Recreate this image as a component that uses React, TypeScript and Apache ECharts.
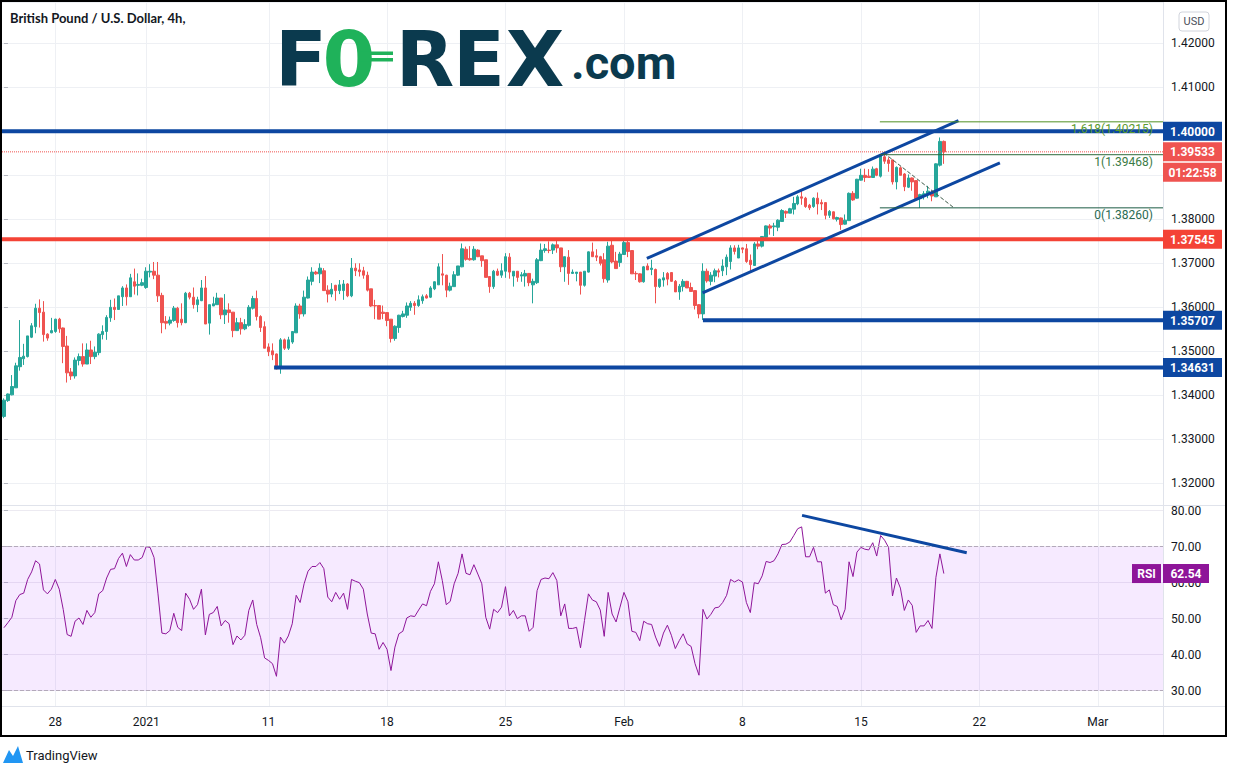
import React, { useEffect, useRef } from "react";
import * as echarts from "echarts";

// ---------- data ----------
const SLOTS = 294; // 4h bar slots shown on the time axis (bars + empty future space)
const categories = Array.from({ length: SLOTS }, (_, i) => String(i));
const xTickIndex = [13, 36, 67, 97, 127, 157, 187, 217, 247, 277];
const xTickLabels = ["28", "2021", "11", "18", "25", "Feb", "8", "15", "22", "Mar"];
// price-axis labels covered by tags in the original
const hiddenPriceLabels = [1.39];

// [open, close, low, high]
const candles: number[][] = [
  [1.3352, 1.3389, 1.3348, 1.3393], [1.3388, 1.3403, 1.3385, 1.3404], [1.3401, 1.342, 1.34, 1.3446], [1.3417, 1.3467, 1.3417, 1.3474],
  [1.3465, 1.3486, 1.3456, 1.3571], [1.3483, 1.3489, 1.3469, 1.3517], [1.3488, 1.3535, 1.3486, 1.3535], [1.3532, 1.3558, 1.353, 1.3564],
  [1.3556, 1.3598, 1.3541, 1.3608], [1.3598, 1.3588, 1.3554, 1.3618], [1.3589, 1.3538, 1.3522, 1.3614], [1.3539, 1.353, 1.3524, 1.3541],
  [1.3542, 1.3547, 1.3541, 1.3576], [1.3545, 1.3573, 1.3542, 1.3574], [1.3573, 1.3551, 1.3542, 1.3576], [1.3553, 1.3511, 1.3473, 1.3554],
  [1.3512, 1.3451, 1.3429, 1.3535], [1.3453, 1.3444, 1.3435, 1.3462], [1.3444, 1.348, 1.3438, 1.3486], [1.3479, 1.3488, 1.3468, 1.3495],
  [1.3488, 1.3471, 1.3465, 1.3518], [1.3471, 1.3503, 1.3471, 1.3518], [1.3503, 1.3488, 1.3471, 1.3524], [1.3488, 1.3498, 1.3482, 1.3511],
  [1.3497, 1.3539, 1.3491, 1.3541], [1.3538, 1.3545, 1.3527, 1.3559], [1.3545, 1.3577, 1.3526, 1.3582], [1.3576, 1.36, 1.3567, 1.3617],
  [1.36, 1.3595, 1.3571, 1.362], [1.3595, 1.3626, 1.3594, 1.3626], [1.3624, 1.3644, 1.3603, 1.3648], [1.3644, 1.3624, 1.3604, 1.3652],
  [1.3624, 1.3667, 1.3624, 1.3676], [1.3658, 1.3648, 1.3629, 1.3688], [1.365, 1.3652, 1.3627, 1.3677], [1.365, 1.3656, 1.3648, 1.3665],
  [1.3645, 1.3682, 1.3642, 1.3691], [1.368, 1.3682, 1.3668, 1.3698], [1.3682, 1.3673, 1.3664, 1.3703], [1.3673, 1.3626, 1.3612, 1.3703],
  [1.3627, 1.3565, 1.3541, 1.3633], [1.3568, 1.3564, 1.355, 1.358], [1.3564, 1.3571, 1.3559, 1.3579], [1.357, 1.3598, 1.3567, 1.3603],
  [1.3598, 1.3565, 1.3554, 1.3601], [1.3573, 1.3565, 1.3559, 1.3609], [1.3565, 1.3632, 1.3564, 1.3635], [1.3632, 1.3623, 1.3618, 1.3635],
  [1.3623, 1.3606, 1.3597, 1.3645], [1.3606, 1.3617, 1.3589, 1.3624], [1.3615, 1.3644, 1.3614, 1.3662], [1.3644, 1.3562, 1.3562, 1.3671],
  [1.3564, 1.3606, 1.3538, 1.3606], [1.3603, 1.3608, 1.3603, 1.3624], [1.3606, 1.3621, 1.3606, 1.3633], [1.3621, 1.3583, 1.3573, 1.3621],
  [1.3583, 1.3594, 1.3562, 1.363], [1.3594, 1.3588, 1.3565, 1.3609], [1.3589, 1.3547, 1.3532, 1.3589], [1.3547, 1.3565, 1.3547, 1.3576],
  [1.3565, 1.3551, 1.3538, 1.3576], [1.3551, 1.3561, 1.3548, 1.3573], [1.3559, 1.36, 1.3556, 1.3605], [1.3598, 1.362, 1.3595, 1.3626],
  [1.362, 1.3579, 1.357, 1.3638], [1.3579, 1.3554, 1.3544, 1.3582], [1.3556, 1.3507, 1.3507, 1.3568], [1.351, 1.3499, 1.3489, 1.3518],
  [1.3501, 1.3492, 1.348, 1.3518], [1.3494, 1.346, 1.3459, 1.3495], [1.3465, 1.3526, 1.3449, 1.353], [1.3526, 1.3507, 1.3503, 1.3529],
  [1.3507, 1.3526, 1.3503, 1.3533], [1.3521, 1.3545, 1.3517, 1.3546], [1.3542, 1.3603, 1.3542, 1.3609], [1.3603, 1.3585, 1.3574, 1.3608],
  [1.3585, 1.3623, 1.3579, 1.3638], [1.3621, 1.3662, 1.362, 1.367], [1.3659, 1.368, 1.365, 1.3691], [1.368, 1.3676, 1.3674, 1.3683],
  [1.3676, 1.3689, 1.3655, 1.37], [1.3683, 1.3638, 1.3637, 1.3689], [1.3639, 1.363, 1.3611, 1.365], [1.363, 1.3641, 1.3623, 1.3655],
  [1.365, 1.3638, 1.3615, 1.3651], [1.3638, 1.3651, 1.363, 1.3662], [1.3638, 1.3653, 1.3617, 1.3662], [1.3653, 1.3626, 1.3623, 1.3655],
  [1.3626, 1.3689, 1.3623, 1.3712], [1.3689, 1.3683, 1.3671, 1.37], [1.3685, 1.3681, 1.367, 1.37], [1.3683, 1.3673, 1.3665, 1.3692],
  [1.3673, 1.3639, 1.3636, 1.3681], [1.3642, 1.3603, 1.3601, 1.3642], [1.3604, 1.3603, 1.3573, 1.3617], [1.3604, 1.3573, 1.3573, 1.3604],
  [1.3589, 1.3586, 1.3573, 1.3604], [1.3588, 1.357, 1.3557, 1.3588], [1.3573, 1.3529, 1.352, 1.3573], [1.3529, 1.3557, 1.3524, 1.3559],
  [1.3554, 1.3582, 1.3542, 1.3583], [1.3579, 1.3585, 1.3577, 1.3592], [1.3582, 1.3603, 1.3576, 1.3611], [1.36, 1.3609, 1.3592, 1.3614],
  [1.3609, 1.3604, 1.3583, 1.3614], [1.3604, 1.3617, 1.3601, 1.3627], [1.3615, 1.3624, 1.3608, 1.3629], [1.3626, 1.3621, 1.362, 1.363],
  [1.3623, 1.3644, 1.3621, 1.3648], [1.3642, 1.3658, 1.3639, 1.3659], [1.3651, 1.3692, 1.3651, 1.37], [1.3676, 1.3673, 1.365, 1.3721],
  [1.3673, 1.3639, 1.3623, 1.3674], [1.3639, 1.3648, 1.3636, 1.3656], [1.3647, 1.3674, 1.3647, 1.3682], [1.3673, 1.3694, 1.3671, 1.3694],
  [1.3692, 1.3733, 1.3691, 1.3745], [1.3732, 1.3709, 1.3706, 1.3738], [1.3711, 1.3708, 1.3706, 1.3739], [1.3708, 1.3732, 1.3706, 1.3739],
  [1.373, 1.3715, 1.3714, 1.3732], [1.3717, 1.3706, 1.3692, 1.3717], [1.3708, 1.3668, 1.3668, 1.3708], [1.367, 1.3647, 1.3633, 1.367],
  [1.3647, 1.3682, 1.3642, 1.3685], [1.3682, 1.3673, 1.3671, 1.3688], [1.3673, 1.3683, 1.3667, 1.37], [1.3682, 1.3715, 1.3667, 1.3723],
  [1.3714, 1.368, 1.3665, 1.3723], [1.3671, 1.3682, 1.3647, 1.3682], [1.3682, 1.3668, 1.3658, 1.3682], [1.3671, 1.3674, 1.3658, 1.368],
  [1.3671, 1.3677, 1.3647, 1.3685], [1.3677, 1.3656, 1.3648, 1.3677], [1.3651, 1.3659, 1.3609, 1.3665], [1.3656, 1.3708, 1.3653, 1.3712],
  [1.3706, 1.373, 1.3705, 1.3745], [1.3729, 1.3733, 1.3724, 1.3744], [1.373, 1.3729, 1.3723, 1.375], [1.373, 1.3742, 1.3721, 1.3745],
  [1.3742, 1.3735, 1.3724, 1.3752], [1.3735, 1.3692, 1.368, 1.3735], [1.3692, 1.3715, 1.3658, 1.3715], [1.3714, 1.3677, 1.3651, 1.373],
  [1.3677, 1.368, 1.3676, 1.3686], [1.3677, 1.368, 1.3659, 1.368], [1.368, 1.365, 1.3629, 1.368], [1.365, 1.3682, 1.3647, 1.3682],
  [1.368, 1.3726, 1.3679, 1.3727], [1.3726, 1.3715, 1.3715, 1.3747], [1.3717, 1.3714, 1.3705, 1.3732], [1.3715, 1.37, 1.3695, 1.3717],
  [1.3708, 1.3665, 1.3656, 1.3723], [1.3662, 1.3739, 1.3656, 1.3749], [1.3741, 1.3703, 1.37, 1.3752], [1.3705, 1.3688, 1.3688, 1.3726],
  [1.3702, 1.3721, 1.3692, 1.3726], [1.372, 1.3747, 1.372, 1.3753], [1.3747, 1.3727, 1.3714, 1.3755], [1.3729, 1.3676, 1.3676, 1.373],
  [1.3677, 1.3676, 1.3662, 1.3682], [1.3676, 1.3658, 1.3656, 1.3677], [1.3658, 1.3692, 1.3656, 1.3694], [1.3694, 1.3685, 1.3685, 1.37],
  [1.3686, 1.3689, 1.3673, 1.3708], [1.3686, 1.3647, 1.3609, 1.3688], [1.3647, 1.3664, 1.3644, 1.3665], [1.3662, 1.3667, 1.3647, 1.368],
  [1.3677, 1.3664, 1.365, 1.368], [1.3679, 1.3659, 1.3658, 1.368], [1.3659, 1.3635, 1.3635, 1.3662], [1.3635, 1.3648, 1.3617, 1.3653],
  [1.3647, 1.3659, 1.3636, 1.3664], [1.3659, 1.3644, 1.3644, 1.366], [1.3645, 1.3636, 1.3636, 1.3656], [1.3638, 1.3604, 1.3595, 1.3638],
  [1.3606, 1.3585, 1.3575, 1.3607], [1.3585, 1.3682, 1.3571, 1.37], [1.3682, 1.366, 1.3656, 1.3688], [1.3659, 1.3673, 1.365, 1.368],
  [1.3671, 1.3683, 1.3657, 1.3688], [1.3683, 1.368, 1.3668, 1.3688], [1.3683, 1.3694, 1.3671, 1.3709], [1.3692, 1.3714, 1.3673, 1.372],
  [1.3704, 1.3735, 1.3686, 1.3741], [1.3735, 1.3727, 1.372, 1.3741], [1.3712, 1.3735, 1.3712, 1.3742], [1.3735, 1.3732, 1.3723, 1.3736],
  [1.3733, 1.3704, 1.3701, 1.3744], [1.3707, 1.3697, 1.3683, 1.372], [1.3695, 1.3744, 1.3694, 1.3748], [1.3744, 1.3739, 1.3732, 1.3757],
  [1.3739, 1.3761, 1.3736, 1.3762], [1.3759, 1.3785, 1.3754, 1.3786], [1.3785, 1.378, 1.3765, 1.3789], [1.3783, 1.3785, 1.3762, 1.3792],
  [1.3782, 1.3798, 1.3773, 1.38], [1.3795, 1.382, 1.3794, 1.3823], [1.3818, 1.3814, 1.3803, 1.382], [1.3814, 1.3824, 1.3814, 1.3826],
  [1.3823, 1.3836, 1.3811, 1.3851], [1.3835, 1.3851, 1.3832, 1.3855], [1.3851, 1.3848, 1.3833, 1.3868], [1.3848, 1.3829, 1.3826, 1.3851],
  [1.3832, 1.3826, 1.3821, 1.3835], [1.3829, 1.3848, 1.3826, 1.385], [1.3848, 1.3835, 1.3811, 1.3861], [1.3838, 1.3835, 1.3821, 1.3845],
  [1.3838, 1.3809, 1.38, 1.3839], [1.3809, 1.3818, 1.3803, 1.3821], [1.3817, 1.3801, 1.38, 1.3818], [1.38, 1.3804, 1.3795, 1.3806],
  [1.3803, 1.3788, 1.3776, 1.3804], [1.3789, 1.3798, 1.3788, 1.3811], [1.3797, 1.3859, 1.3797, 1.3861], [1.3859, 1.3844, 1.3842, 1.3864],
  [1.3848, 1.3891, 1.3847, 1.3892], [1.3889, 1.39, 1.3888, 1.3915], [1.39, 1.3895, 1.3885, 1.3915], [1.3898, 1.3895, 1.3894, 1.3914],
  [1.3895, 1.3914, 1.3894, 1.392], [1.3915, 1.39, 1.3898, 1.3917], [1.3898, 1.3944, 1.3895, 1.3946], [1.3942, 1.3932, 1.3926, 1.3947],
  [1.3935, 1.3927, 1.3908, 1.3941], [1.3935, 1.3885, 1.3879, 1.3936], [1.3885, 1.3918, 1.3868, 1.392], [1.3917, 1.39, 1.39, 1.392],
  [1.3903, 1.3874, 1.3864, 1.3905], [1.3873, 1.3894, 1.3871, 1.3902], [1.3894, 1.3885, 1.3865, 1.3895], [1.3888, 1.3847, 1.3845, 1.3888],
  [1.3847, 1.3856, 1.3826, 1.3858], [1.3853, 1.3858, 1.3845, 1.3864], [1.3856, 1.3864, 1.3848, 1.3876], [1.3861, 1.3853, 1.3841, 1.3865],
  [1.3851, 1.3926, 1.3851, 1.3927], [1.3923, 1.3977, 1.392, 1.3986], [1.3977, 1.39533, 1.3926, 1.3979],
];

const rsi: number[] = [
  47.5, 48.9, 50.4, 55.0, 56.7, 57.1, 60.9, 63.0, 66.1, 65.2, 58.0, 56.9, 58.2, 60.9, 58.2, 52.6, 45.6, 45.1, 49.3, 50.2,
  48.4, 52.3, 50.4, 51.7, 56.9, 57.8, 61.3, 63.7, 63.9, 66.7, 68.2, 64.5, 67.8, 66.3, 66.3, 67.0, 70.0, 69.8, 67.0, 56.9,
  46.0, 45.8, 46.7, 51.5, 47.6, 46.7, 57.1, 55.4, 52.6, 53.9, 58.2, 45.5, 51.2, 51.7, 53.4, 48.0, 49.5, 48.6, 42.8, 45.2,
  44.1, 45.4, 52.3, 55.2, 48.4, 44.7, 39.1, 38.4, 37.5, 34.0, 44.9, 43.2, 45.2, 48.6, 56.5, 54.5, 59.7, 63.2, 64.5, 64.5,
  65.6, 63.9, 56.0, 54.7, 57.3, 55.4, 57.1, 52.6, 60.9, 60.4, 60.0, 58.2, 51.3, 46.0, 45.8, 41.5, 43.4, 41.5, 35.6, 42.1,
  45.8, 46.5, 50.2, 50.8, 50.6, 52.4, 54.1, 53.6, 57.6, 59.7, 65.8, 60.6, 53.9, 54.8, 59.7, 62.6, 68.0, 62.6, 62.2, 65.0,
  62.4, 59.7, 50.4, 47.1, 52.6, 51.7, 53.2, 58.9, 50.8, 52.3, 50.0, 50.8, 50.8, 46.5, 47.6, 57.8, 60.9, 61.3, 61.1, 62.8,
  60.6, 50.8, 54.1, 47.3, 47.3, 47.6, 41.9, 49.5, 56.9, 55.2, 54.7, 52.4, 45.1, 57.3, 51.3, 49.1, 53.2, 57.3, 54.7, 46.5,
  46.2, 43.9, 49.3, 48.6, 48.4, 44.9, 42.3, 46.0, 48.2, 45.4, 41.7, 43.9, 45.8, 43.0, 42.3, 37.5, 34.3, 52.6, 49.9, 51.2,
  53.0, 53.2, 54.5, 56.5, 60.9, 60.2, 60.8, 60.2, 54.5, 51.7, 60.0, 59.7, 61.9, 65.9, 65.6, 66.1, 68.0, 70.6, 70.7, 71.3,
  73.1, 75.0, 75.5, 67.2, 67.2, 69.8, 65.8, 65.8, 57.1, 58.0, 53.9, 53.4, 49.7, 52.6, 65.8, 61.7, 68.5, 69.8, 69.3, 69.1,
  71.1, 67.4, 73.1, 71.8, 69.8, 56.3, 61.3, 58.5, 52.3, 55.2, 53.7, 46.2, 48.0, 48.0, 49.5, 47.3, 61.5, 68.0, 62.54,
];

const lastPrice = 1.39533;
const lastRsi = 62.54;
const countdown = "01:22:58";

// drawn levels: price and start bar
const levelLines = [
  { price: 1.4, from: -0.5, color: "#0d47a1" },
  { price: 1.37545, from: -0.5, color: "#f44336" },
  { price: 1.35707, from: 177, color: "#0d47a1" },
  { price: 1.34631, from: 68.4, color: "#0d47a1" },
];
const channelUpper = [[162.8, 1.3711], [241.7, 1.4024]];
const channelLower = [[176.9, 1.3633], [252.2, 1.3928]];
const fibStart = 221.8;
const fibLevels = [
  { label: "1.618", price: 1.40215, color: "#4f8f22", text: "#5a9a2e" },
  { label: "1", price: 1.39468, color: "#2d6a3a", text: "#3b7b45" },
  { label: "0", price: 1.3826, color: "#1b5a44", text: "#2a6a52" },
];
const fibDiagonal = [[222.8, 1.3951], [240.3, 1.3828]];
const rsiTrend = [[202.1, 78.7], [243.8, 68.3]];

// pane value ranges
const PMAX = 1.429386, PMIN = 1.315068;
const RMAX = 81.58, RMIN = 25.75;

const FONT = "Roboto, 'Noto Sans', sans-serif";
const BLUE = "#0d47a1";

function buildOption(): any {
  const lineSeries = (data: number[][], color: string, width: number, xi: number, yi: number, type = "solid", z = 5) => ({
    type: "line", xAxisIndex: xi, yAxisIndex: yi, data, symbol: "none", silent: true, z,
    lineStyle: { color, width, type }, animation: false,
  });
  const series: any[] = [
    {
      type: "candlestick", xAxisIndex: 0, yAxisIndex: 0, z: 3, barWidth: 3,
      data: candles.map((c) => [c[0], c[1], c[2], c[3]]),
      itemStyle: { color: "#26a69a", color0: "#ef5350", borderColor: "#26a69a", borderColor0: "#ef5350", borderColorDoji: "#26a69a", borderWidth: 1 },
    },
    lineSeries([[-0.5, lastPrice], [SLOTS - 0.5, lastPrice]], "#ef5350", 1, 2, 0, "dotted", 4),
    ...levelLines.map((l) => lineSeries([[l.from, l.price], [SLOTS - 0.5, l.price]], l.color, 4, 2, 0)),
    lineSeries(channelUpper, BLUE, 3, 2, 0),
    lineSeries(channelLower, BLUE, 3, 2, 0),
    ...fibLevels.map((f) => lineSeries([[fibStart, f.price], [SLOTS - 0.5, f.price]], f.color, 1, 2, 0)),
    lineSeries(fibDiagonal, "#3f5c4a", 1, 2, 0, "dashed"),
    {
      type: "line", xAxisIndex: 1, yAxisIndex: 1, data: rsi, symbol: "none", z: 3,
      lineStyle: { color: "#8e1599", width: 1 },
      markArea: { silent: true, itemStyle: { color: "rgba(153,21,255,0.09)" }, data: [[{ yAxis: 70 }, { yAxis: 30 }]] },
      markLine: {
        silent: true, symbol: ["none", "none"], label: { show: false },
        lineStyle: { type: "dashed", color: "#b3a9ba", width: 1 },
        data: [{ yAxis: 70 }, { yAxis: 30 }],
      },
    },
    lineSeries(rsiTrend, BLUE, 3, 3, 1),
  ];
  const tickSet = new Map<number, string>();
  xTickIndex.forEach((i, k) => tickSet.set(i, xTickLabels[k]));
  return {
    animation: false,
    backgroundColor: "#ffffff",
    grid: [
      { left: 2, top: 2, width: 1161, height: 503, outerBoundsMode: "none", containLabel: false },
      { left: 2, top: 505, width: 1161, height: 201, outerBoundsMode: "none", containLabel: false },
    ],
    xAxis: [
      { type: "category", gridIndex: 0, data: categories, boundaryGap: true, show: false },
      {
        type: "category", gridIndex: 1, data: categories, boundaryGap: true,
        axisLine: { show: false }, axisTick: { show: false }, splitLine: { show: false },
        axisLabel: {
          interval: (i: number) => tickSet.has(i),
          formatter: (_v: string, i: number) => tickSet.get(i) || "",
          margin: 10, color: "#131722", fontSize: 12, fontFamily: FONT,
        },
      },
      { type: "value", gridIndex: 0, min: -0.5, max: SLOTS - 0.5, show: false },
      { type: "value", gridIndex: 1, min: -0.5, max: SLOTS - 0.5, show: false },
    ],
    yAxis: [
      {
        type: "value", gridIndex: 0, position: "right", min: PMIN, max: PMAX, minInterval: 0.01, maxInterval: 0.01, scale: true,
        axisLine: { show: false },
        axisTick: { show: true, length: 4, lineStyle: { color: "#b2b5be" } },
        splitLine: { show: true, lineStyle: { color: "#eef0f4", width: 1 } },
        axisLabel: {
          formatter: (v: number) => (hiddenPriceLabels.some((h) => Math.abs(h - v) < 1e-6) ? "" : v.toFixed(5)),
          showMinLabel: false, showMaxLabel: false, margin: 8, color: "#131722", fontSize: 12, fontFamily: FONT,
        },
      },
      {
        type: "value", gridIndex: 1, position: "right", min: RMIN, max: RMAX, minInterval: 10, maxInterval: 10,
        axisLine: { show: false },
        axisTick: { show: true, length: 4, lineStyle: { color: "#b2b5be" } },
        splitLine: { show: true, lineStyle: { color: "#eceaf1", width: 1 } },
        axisLabel: { formatter: (v: number) => v.toFixed(2), showMinLabel: false, showMaxLabel: false, margin: 8, color: "#131722", fontSize: 12, fontFamily: FONT },
      },
    ],
    series,
  };
}

function txt(text: string, x: number, y: number, font: string, fill: string, align = "left", z = 100, vAlign = "middle"): any {
  return {
    type: "text", z, silent: true,
    style: { text, x, y, font, fill, align, textAlign: align, verticalAlign: vAlign, textVerticalAlign: vAlign },
  };
}
function rect(x: number, y: number, w: number, h: number, fill: string, z = 100, extra: any = {}): any {
  return { type: "rect", z, silent: true, shape: { x, y, width: w, height: h, r: extra.r || 0 }, style: { fill, stroke: extra.stroke, lineWidth: extra.lineWidth || 0 } };
}
function ln(x1: number, y1: number, x2: number, y2: number, stroke: string, w = 1, z = 100): any {
  return { type: "line", z, silent: true, shape: { x1, y1, x2, y2 }, style: { stroke, lineWidth: w } };
}

function buildGraphic(chart: any): any[] {
  const yP = (v: number) => chart.convertToPixel({ yAxisIndex: 0 }, v) as number;
  const yR = (v: number) => chart.convertToPixel({ yAxisIndex: 1 }, v) as number;
  const xV = (v: number) => chart.convertToPixel({ xAxisIndex: 2 }, v) as number;
  const g: any[] = [];

  // vertical grid lines at the date ticks
  xTickIndex.forEach((i) => {
    const x = Math.round(xV(i)) + 0.5;
    g.push(ln(x, 2, x, 706, "#eef0f4", 1, 0));
  });

  // separators and frame
  g.push(ln(2, 505.5, 1226, 505.5, "#e0e3eb", 1, 90));
  g.push(ln(2, 706.5, 1226, 706.5, "#e0e3eb", 1, 90));
  g.push(ln(1163.5, 2, 1163.5, 736, "#e0e3eb", 1, 90));
  g.push({ type: "rect", z: 120, silent: true, shape: { x: 1, y: 1, width: 1225, height: 735 }, style: { fill: "none", stroke: "#000000", lineWidth: 2 } });

  // title
  g.push(txt("British Pound / U.S. Dollar, 4h,", 10, 18, "bold 13px Lato, 'Open Sans', sans-serif", "#131722"));

  // FOREX.com logo
  const logoFont = "bold 76px 'DejaVu Sans', Roboto, sans-serif";
  [["F", 301], ["R", 425], ["E", 479], ["X", 535]].forEach(([ch, x]) =>
    g.push(txt(ch as string, x as number, 59, logoFont, "#0b3a4e", "center", 50)));
  g.push(txt("0", 349, 59, logoFont, "#1fb25a", "center", 50));
  g.push(rect(360, 51.5, 33, 3.5, "#1fb25a", 51));
  g.push(rect(360, 58, 33, 3.5, "#1fb25a", 51));
  g.push(txt(".com", 571, 62, "bold 47px Roboto, sans-serif", "#0b3a4e", "left", 50));

  // USD box
  g.push(rect(1179, 12, 30, 19, "#ffffff", 100, { stroke: "#d1d4dc", lineWidth: 1, r: 3 }));
  g.push(txt("USD", 1194, 21.5, "11px " + FONT, "#4a4e59", "center", 101));

  // price tags
  const tag = (price: number, bg: string, label?: string, dy = 0) => {
    const y = yP(price) + dy;
    g.push(rect(1163, y - 9.5, 59, 19, bg, 110));
    g.push(txt(label || price.toFixed(5), 1192.5, y + 0.5, "bold 12px " + FONT, "#ffffff", "center", 111));
  };
  tag(levelLines[0].price, BLUE);
  tag(lastPrice, "#ef5350");
  tag(lastPrice, "#ef5350", countdown, 20.5);
  tag(levelLines[1].price, "#f44336");
  tag(levelLines[2].price, BLUE);
  tag(levelLines[3].price, BLUE);

  // fib labels
  fibLevels.forEach((f) => {
    g.push(txt(`${f.label}(${f.price.toFixed(5)})`, 1153, yP(f.price) + 7, "12px " + FONT, f.text, "right", 60));
  });

  // RSI tags
  const ry = yR(lastRsi);
  g.push(rect(1132, ry - 9.5, 29, 19, "#8e1599", 110));
  g.push(txt("RSI", 1146.5, ry + 0.5, "bold 12px " + FONT, "#ffffff", "center", 111));
  g.push(rect(1163, ry - 9.5, 46, 19, "#8e1599", 110));
  g.push(txt(lastRsi.toFixed(2), 1186, ry + 0.5, "bold 12px " + FONT, "#ffffff", "center", 111));

  // TradingView mark
  g.push({ type: "polygon", z: 100, silent: true, shape: { points: [[3, 763], [9, 750], [13, 756], [18, 746], [23, 763]] }, style: { fill: "#2196f3" } });
  g.push(txt("TradingView", 26, 755, "13px " + FONT, "#131722", "left", 100));
  return g;
}

export default function App() {
  const ref = useRef<HTMLDivElement>(null);
  useEffect(() => {
    document.body.style.margin = "0";
    const chart = echarts.init(ref.current!, undefined, { renderer: "svg", width: 1233, height: 773 });
    chart.setOption(buildOption());
    chart.setOption({ graphic: buildGraphic(chart) });
    return () => chart.dispose();
  }, []);
  return <div ref={ref} style={{ width: 1233, height: 773, background: "#fff" }} />;
}
